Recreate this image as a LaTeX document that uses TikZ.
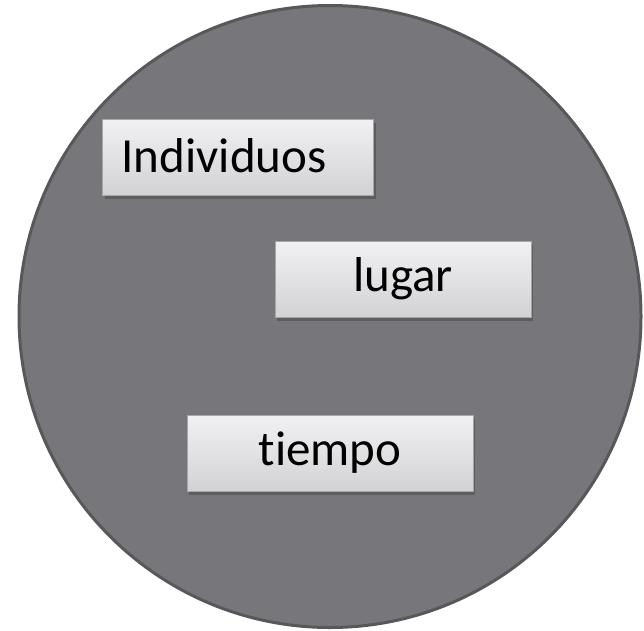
\documentclass[tikz,border=0pt]{standalone}
\usepackage{fontspec}
\setmainfont[Ligatures=NoCommon]{Carlito}
\usetikzlibrary{shadows}
\definecolor{circulo}{HTML}{77777B}
\definecolor{borde}{HTML}{58585A}
\definecolor{cajaarriba}{HTML}{F1F1F3}
\definecolor{cajaabajo}{HTML}{D2D2D5}
\tikzset{
  caja/.style={rectangle,draw=gray!70,line width=0.8pt,
    top color=cajaarriba,bottom color=cajaabajo,
    drop shadow={shadow xshift=2pt,shadow yshift=-3.5pt,opacity=0.6,fill=black!70},
    inner sep=0pt,font=\fontsize{49}{58}\selectfont}
}
\begin{document}
\begin{tikzpicture}[x=1pt,y=-1pt]
  \useasboundingbox (0,0) rectangle (644,630);
  % Circle
  \draw[fill=circulo,draw=borde,line width=3pt] (330,316.5) circle[radius=311];

  % Boxes
  \node[caja,minimum width=271pt,minimum height=76pt] (individuos) at (238,157) {};
  \node[anchor=west,font=\fontsize{49}{58}\selectfont] (tindividuos) at (individuos.west) [xshift=16pt,yshift=1pt] {Individuos};
  \node[caja,minimum width=256pt,minimum height=76pt] (lugar) at (403,279) {lugar};
  \node[caja,minimum width=286pt,minimum height=76pt] (tiempo) at (330,453) {tiempo};
\end{tikzpicture}
\end{document}
